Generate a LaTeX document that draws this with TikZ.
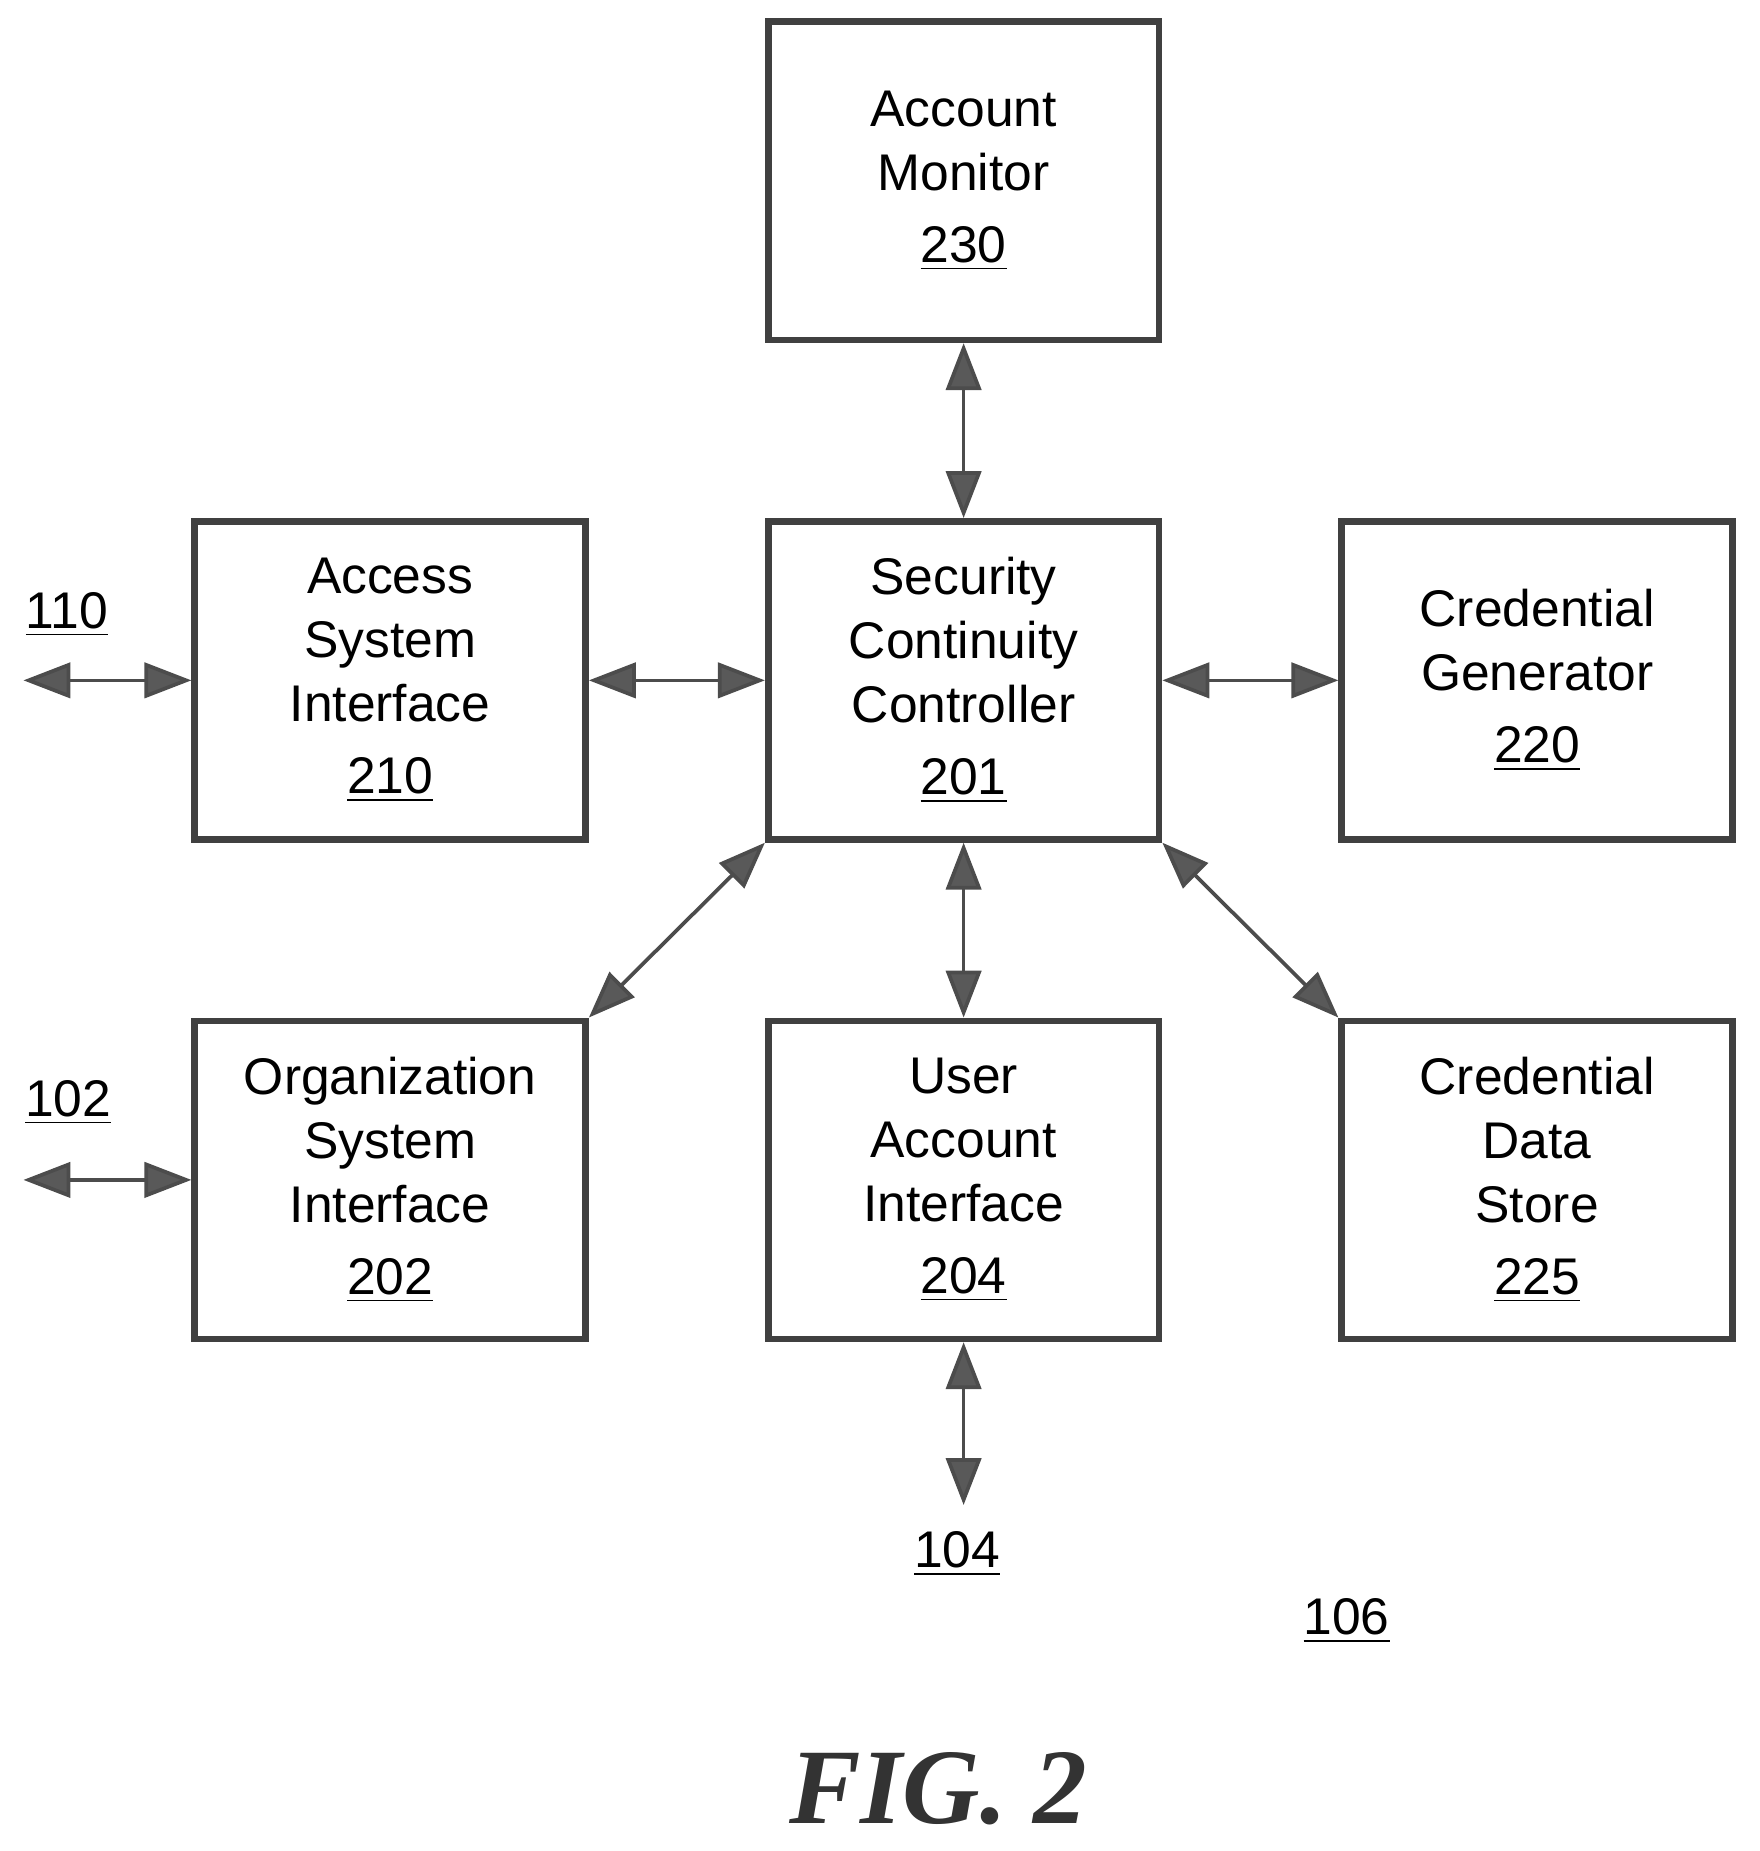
\documentclass[tikz,border=0pt]{standalone}
\usepackage{fontspec}
\setmainfont{Liberation Sans}
\newfontfamily\figfont{Liberation Serif}
\usetikzlibrary{positioning,arrows.meta}
\tikzset{
  blk/.style={draw=black!75,line width=1.6pt,minimum width=3.33cm,minimum height=2.71cm,
    align=center,font=\fontsize{12.5}{15.5}\selectfont,inner sep=0pt},
  conn/.style={{Triangle[length=0.4cm,width=0.3cm,fill=black!65]}-{Triangle[length=0.4cm,width=0.3cm,fill=black!65]},
    draw=black!70,line width=0.9pt},
  ref/.style={font=\fontsize{12.5}{15}\selectfont}
}
\newcommand{\rnum}[1]{\\[2pt]\underline{#1}}
\begin{document}
\begin{tikzpicture}[x=0.01cm,y=-0.01cm]
		\useasboundingbox (0,0) rectangle (1500,1578);
		\node[blk] (scc) at (821.5,580) {Security\\Continuity\\Controller\rnum{201}};
		\node[blk,above=1.49cm of scc] (mon) {Account\\Monitor\rnum{230}};
		\node[blk,left=1.5cm of scc] (asi) {Access\\System\\Interface\rnum{210}};
		\node[blk,right=1.5cm of scc] (gen) {Credential\\Generator\rnum{220}};
		\node[blk,below=1.49cm of scc] (uai) {User\\Account\\Interface\rnum{204}};
		\node[blk,left=1.5cm of uai] (osi) {Organization\\System\\Interface\rnum{202}};
		\node[blk,right=1.5cm of uai] (cds) {Credential\\Data\\Store\rnum{225}};
		\coordinate (p110) at (20,580);
		\coordinate (p102) at (osi.west -| p110);
		\coordinate (p104) at (821.5,1283);
		\node[ref] (l110) at (57,524) {\underline{110}};
		\node[ref] (l102) at (58,940) {\underline{102}};
		\node[ref] (l104) at (816,1325) {\underline{104}};
		\node[ref] (l106) at (1148,1382) {\underline{106}};
		\node[font=\figfont\bfseries\itshape\fontsize{26}{30}\selectfont,text=black!80] (fig) at (800,1525) {FIG. 2};
		% connectors
		\draw[conn] (mon) -- (scc);
		\draw[conn] (asi) -- (scc);
		\draw[conn] (scc) -- (gen);
		\draw[conn] (scc) -- (uai);
		\draw[conn] (scc.south west) -- (osi.north east);
		\draw[conn] (scc.south east) -- (cds.north west);
		\draw[conn] (p110) -- (asi);
		\draw[conn] (p102) -- (osi);
		\draw[conn] (uai) -- (p104);
\end{tikzpicture}
\end{document}
